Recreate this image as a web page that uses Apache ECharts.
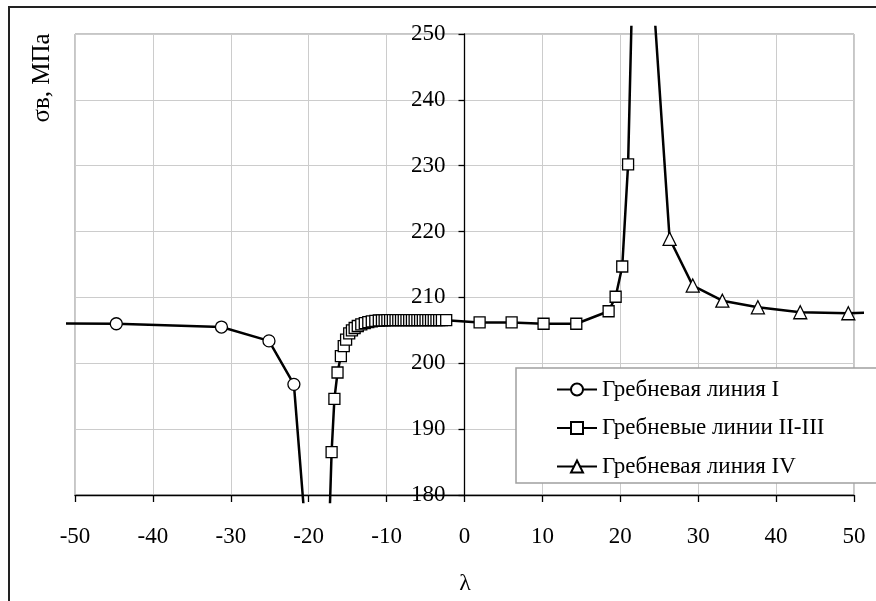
<!DOCTYPE html>
<html>
<head>
<meta charset="utf-8">
<script src="https://cdn.jsdelivr.net/npm/echarts@6/dist/echarts.min.js"></script>
<style>
  html, body { margin: 0; padding: 0; background: #fff; }
  #chart { width: 876px; height: 601px; }
</style>
</head>
<body>
<div id="chart"></div>
<script>
// Axis ranges and tick step
const xAxisRange = [-50, 50];
const yAxisRange = [180, 250];
const tickStep = 10;

// Ridge line I (circles)
const nameI = 'Гребневая линия I';
const lambdaI = [-56, -44.7, -31.2, -25.1, -21.9, -20.1];
const sigmaI  = [206.05, 206.0, 205.5, 203.4, 196.8, 170];

// Ridge lines II-III (squares)
const nameII = 'Гребневые линии II-III';
const lambdaII = [-17.5, -17.06, -16.7, -16.3, -15.87, -15.5, -15.2, -14.8, -14.45, -14.1,
  -13.7, -13.25, -12.8, -12.35, -11.9, -11.45, -11.0, -10.6, -10.25, -9.9,
  -9.55, -9.2, -8.85, -8.5, -8.15, -7.8, -7.45, -7.1, -6.75, -6.4,
  -6.05, -5.7, -5.35, -5.0, -4.65, -4.3, -3.95, -3.6, -3.25, -2.9,
  -2.35, 1.94, 6.05, 10.15, 14.35, 18.5, 19.4, 20.25, 21.0, 21.6];
const sigmaII = [170, 186.5, 194.6, 198.6, 201.1, 202.6, 203.6, 204.55, 205.0, 205.36,
  205.66, 205.9, 206.1, 206.25, 206.35, 206.45, 206.5, 206.52, 206.53, 206.54,
  206.55, 206.55, 206.55, 206.55, 206.55, 206.55, 206.55, 206.55, 206.55, 206.55,
  206.55, 206.55, 206.55, 206.55, 206.55, 206.55, 206.55, 206.55, 206.55, 206.55,
  206.55, 206.2, 206.2, 206.0, 206.0, 207.9, 210.1, 214.7, 230.2, 260];

// Ridge line IV (triangles)
const nameIV = 'Гребневая линия IV';
const lambdaIV = [24.0, 26.33, 29.3, 33.1, 37.66, 43.1, 49.27, 55];
const sigmaIV  = [260, 218.9, 211.8, 209.5, 208.5, 207.75, 207.6, 207.85];

const pairs = (xs, ys) => xs.map((x, i) => [x, ys[i]]);

// Layout of the axes box (pixels) and the clip margin the curves may run into
const box = { left: 75, top: 34, width: 779, height: 461 };
const pad = { l: 7, r: 8, t: 7, b: 7 };
const pxPerX = box.width / (xAxisRange[1] - xAxisRange[0]);
const pxPerY = box.height / (yAxisRange[1] - yAxisRange[0]);
// the vertical axis is drawn through λ = 0
const yAxisShift = (0 - xAxisRange[0]) * pxPerX;

const font = "'Liberation Serif', 'Times New Roman', serif";
const txt = { fontFamily: font, fontSize: 23, color: '#000' };

const lineSeries = (name, data, symbol, size) => ({
  name, type: 'line', data,
  xAxisIndex: 1, yAxisIndex: 1,
  symbol, symbolSize: size, showAllSymbol: true,
  clip: true,
  lineStyle: { color: '#000', width: 2.5 },
  itemStyle: { color: '#fff', borderColor: '#000', borderWidth: 1.3 },
  emphasis: { disabled: true },
  z: 3
});

const chart = echarts.init(document.getElementById('chart'), null, { renderer: 'canvas' });
chart.setOption({
  animation: false,
  backgroundColor: '#fff',
  grid: [
    { left: box.left, top: box.top, width: box.width, height: box.height,
      show: true, borderColor: '#8c8c8c', borderWidth: 1, backgroundColor: 'transparent' },
    { left: box.left - pad.l, top: box.top - pad.t,
      width: box.width + pad.l + pad.r, height: box.height + pad.t + pad.b }
  ],
  xAxis: [
    { type: 'value', gridIndex: 0, min: xAxisRange[0], max: xAxisRange[1], interval: tickStep,
      axisLine: { lineStyle: { color: '#000', width: 1.3 } },
      axisTick: { show: true, length: 7, lineStyle: { color: '#000', width: 1.3 } },
      axisLabel: { ...txt, margin: 30 },
      splitLine: { show: true, lineStyle: { color: '#cccccc', width: 1 } } },
    { type: 'value', gridIndex: 1, show: false,
      min: xAxisRange[0] - pad.l / pxPerX, max: xAxisRange[1] + pad.r / pxPerX,
      splitLine: { show: false } }
  ],
  yAxis: [
    { type: 'value', gridIndex: 0, min: yAxisRange[0], max: yAxisRange[1], interval: tickStep,
      position: 'left', offset: -yAxisShift,
      axisLine: { onZero: false, lineStyle: { color: '#000', width: 1.3 } },
      axisTick: { show: true, length: 6, lineStyle: { color: '#000', width: 1.3 } },
      axisLabel: { ...txt, margin: 19 },
      splitLine: { show: true, lineStyle: { color: '#cccccc', width: 1 } } },
    { type: 'value', gridIndex: 1, show: false,
      min: yAxisRange[0] - pad.b / pxPerY, max: yAxisRange[1] + pad.t / pxPerY,
      splitLine: { show: false } }
  ],
  legend: {
    orient: 'vertical', left: 516, top: 368,
    data: [nameI, nameII, nameIV],
    itemWidth: 40, itemHeight: 15, itemGap: 15.5,
    padding: [10, 60, 5, 40],
    backgroundColor: '#fff', borderColor: '#a0a0a0', borderWidth: 1.5, borderRadius: 0,
    textStyle: { ...txt },
    selectedMode: false
  },
  graphic: [
    { type: 'rect', shape: { x: 9, y: 7, width: 1000, height: 1000 },
      style: { fill: 'none', stroke: '#222', lineWidth: 2 }, z: 10, silent: true },
    { type: 'text', x: 42, y: 78, rotation: Math.PI / 2,
      style: { text: 'σв, МПа', font: '25px ' + font, fill: '#000',
        textAlign: 'center', textVerticalAlign: 'middle' } },
    { type: 'text', x: 465, y: 584,
      style: { text: 'λ', font: '24px ' + font, fill: '#000',
        textAlign: 'center', textVerticalAlign: 'middle' } }
  ],
  series: [
    lineSeries(nameI, pairs(lambdaI, sigmaI), 'circle', 12),
    lineSeries(nameII, pairs(lambdaII, sigmaII), 'rect', 11),
    lineSeries(nameIV, pairs(lambdaIV, sigmaIV), 'triangle', 13)
  ]
});
</script>
</body>
</html>
